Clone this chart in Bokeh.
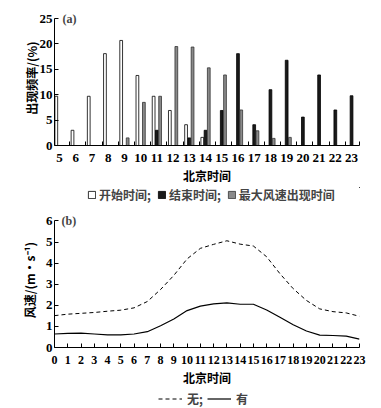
from bokeh.plotting import figure
from bokeh.layouts import column
from bokeh.models import (ColumnDataSource, FixedTicker, Legend, LegendItem, Label,
                          Range1d)
from bokeh.embed import file_html
from bokeh.resources import INLINE

# ---------------- data ----------------
hours_a = list(range(5, 24))
start_freq = [9.7, 3.0, 9.7, 18.1, 20.7, 13.8, 9.7, 6.9, 4.1, 1.6, 0, 0, 0, 0, 0, 0, 0, 0, 0]
end_freq = [0, 0, 0, 0, 0, 0, 3.0, 0, 1.5, 3.0, 6.9, 18.1, 4.1, 11.0, 16.8, 5.6, 13.9, 7.0, 9.8]
maxwind_freq = [0, 0, 0, 0, 1.5, 8.5, 9.7, 19.5, 19.4, 15.3, 13.9, 7.0, 2.9, 1.4, 1.6, 0, 0, 0, 0]

hours_b = list(range(0, 24))
speed_none = [1.51, 1.58, 1.62, 1.66, 1.72, 1.77, 1.88, 2.18, 2.75, 3.42, 4.2, 4.7,
              4.89, 5.06, 4.9, 4.81, 4.3, 3.5, 2.79, 2.23, 1.83, 1.7, 1.64, 1.48]
speed_with = [0.64, 0.67, 0.68, 0.64, 0.6, 0.6, 0.64, 0.75, 1.03, 1.35, 1.75, 1.96,
              2.07, 2.12, 2.05, 2.05, 1.78, 1.43, 1.08, 0.78, 0.59, 0.57, 0.54, 0.4]

labels_a = ["开始时间;", "结束时间;", "最大风速出现时间"]
labels_b = ["无;", "有"]

NUM_FONT = "Liberation Serif"
CJK_FONT = "Noto Sans CJK SC"
W = 372

WHITE_STYLE = dict(fill_color="white", line_color="black", line_width=0.8)
BLACK_STYLE = dict(fill_color="#1a1a1a", line_color="black", line_width=0.8)
GRAY_STYLE = dict(fill_color="#8a8a8a", line_color="#333333", line_width=0.8)
DASH_STYLE = dict(line_color="black", line_width=1, line_dash="4 3")
SOLID_STYLE = dict(line_color="black", line_width=1.2)


def style_axes(p):
    for ax in (p.xaxis[0], p.yaxis[0]):
        ax.axis_line_color = "black"
        ax.axis_line_width = 1
        ax.major_label_text_font = NUM_FONT
        ax.major_label_text_font_style = "bold"
        ax.major_label_text_font_size = "13px"
        ax.major_label_text_color = "black"
        ax.axis_label_text_font = CJK_FONT
        ax.axis_label_text_font_style = "bold"
        ax.axis_label_text_font_size = "12px"
        ax.axis_label_text_color = "black"
        ax.minor_tick_line_color = None
    p.yaxis.major_tick_in = 4
    p.yaxis.major_tick_out = 0
    p.yaxis.major_label_standoff = 2
    p.xgrid.grid_line_color = None
    p.ygrid.grid_line_color = None
    p.outline_line_color = None
    p.background_fill_color = "white"
    p.border_fill_color = "white"


def legend_figure(height):
    # frame aligned with the chart frames above (54..360); data ranges kept far
    # away from the data so only the legend is visible
    q = figure(width=W, height=height, output_backend="svg", toolbar_location=None,
               x_range=Range1d(-100, -99), y_range=Range1d(-100, -99),
               min_border_left=54, min_border_right=W - 360, min_border_top=0,
               min_border_bottom=0, x_axis_location=None, y_axis_location=None)
    q.xgrid.grid_line_color = None
    q.ygrid.grid_line_color = None
    q.outline_line_color = None
    return q


def make_legend(items, loc, gw, standoff, spacing):
    return Legend(items=items, orientation="horizontal", location=loc,
                  label_text_font=CJK_FONT, label_text_font_style="bold",
                  label_text_font_size="12px", glyph_width=gw, glyph_height=9,
                  label_height=12, label_standoff=standoff, spacing=spacing,
                  padding=0, margin=0, border_line_color=None,
                  background_fill_alpha=0)


# ---------------- (a) bars ----------------
src = ColumnDataSource(dict(
    x=hours_a,
    xs=[h - 0.2 for h in hours_a],
    xe=[h for h in hours_a],
    xm=[h + 0.2 for h in hours_a],
    start=start_freq, end=end_freq, maxw=maxwind_freq,
))

p1 = figure(width=W, height=187, output_backend="svg", toolbar_location=None,
            x_range=Range1d(4.69, 23.49), y_range=Range1d(0, 26.6),
            min_border_left=54, min_border_right=W - 360, min_border_top=10,
            min_border_bottom=42)
style_axes(p1)

w = 0.17
p1.vbar(x="xs", top="start", width=w, source=src, **WHITE_STYLE)
p1.vbar(x="xe", top="end", width=w, source=src, **BLACK_STYLE)
p1.vbar(x="xm", top="maxw", width=w, source=src, **GRAY_STYLE)

p1.xaxis.ticker = FixedTicker(ticks=hours_a,
                              minor_ticks=[h + 0.62 for h in hours_a[:-1]] + [23.48])
p1.xaxis.major_tick_in = 0
p1.xaxis.major_tick_out = 0
p1.xaxis[0].minor_tick_line_color = "black"
p1.xaxis.minor_tick_in = 4
p1.xaxis.minor_tick_out = 0
p1.xaxis.major_label_standoff = 8
p1.yaxis.ticker = FixedTicker(ticks=[0, 5, 10, 15, 20, 25])
p1.yaxis.bounds = (0, 25)
p1.xaxis.axis_label = "北京时间"
p1.yaxis.axis_label = "出现频率/(%)"
p1.xaxis.axis_label_standoff = 2
p1.yaxis.axis_label_standoff = -3

p1.add_layout(Label(x=4.69, y=25, x_offset=8, text="(a)", text_font=NUM_FONT,
                    text_font_style="bold", text_font_size="12px",
                    text_baseline="middle"))

# legend for (a): same bar series, drawn outside the legend strip's ranges
lf1 = legend_figure(18)
g_s = lf1.vbar(x="xs", top="start", width=w, source=src, **WHITE_STYLE)
g_e = lf1.vbar(x="xe", top="end", width=w, source=src, **BLACK_STYLE)
g_m = lf1.vbar(x="xm", top="maxw", width=w, source=src, **GRAY_STYLE)
lf1.add_layout(make_legend([LegendItem(label=labels_a[0], renderers=[g_s]),
                            LegendItem(label=labels_a[1], renderers=[g_e]),
                            LegendItem(label=labels_a[2], renderers=[g_m])],
                           (33, 2), 9, 3, 6))

# ---------------- (b) lines ----------------
src_b = ColumnDataSource(dict(x=hours_b, none=speed_none, with_=speed_with))

p2 = figure(width=W, height=184, output_backend="svg", toolbar_location=None,
            x_range=Range1d(0, 23), y_range=Range1d(0, 6.4),
            min_border_left=54, min_border_right=W - 359, min_border_top=7,
            min_border_bottom=42)
style_axes(p2)

p2.line("x", "none", source=src_b, **DASH_STYLE)
p2.line("x", "with_", source=src_b, **SOLID_STYLE)

p2.xaxis.ticker = FixedTicker(ticks=hours_b)
p2.xaxis.major_tick_in = 4
p2.xaxis.major_tick_out = 0
p2.xaxis.major_label_standoff = 8
p2.xaxis.major_label_text_font_size = "12px"
p2.yaxis.ticker = FixedTicker(ticks=[0, 1, 2, 3, 4, 5, 6])
p2.yaxis.bounds = (0, 6)
p2.xaxis.axis_label = "北京时间"
p2.yaxis.axis_label = "风速/(m·s⁻¹)"
p2.xaxis.axis_label_standoff = 2
p2.yaxis.axis_label_standoff = 5

p2.add_layout(Label(x=0, y=6, x_offset=7, text="(b)", text_font=NUM_FONT,
                    text_font_style="bold", text_font_size="12px",
                    text_baseline="middle"))

# legend for (b)
lf2 = legend_figure(18)
g_n = lf2.line("x", "none", source=src_b, **DASH_STYLE)
g_w = lf2.line("x", "with_", source=src_b, **SOLID_STYLE)
lf2.add_layout(make_legend([LegendItem(label=labels_b[0], renderers=[g_n]),
                            LegendItem(label=labels_b[1], renderers=[g_w])],
                           (104, 0), 24, 5, 0))

layout = column(p1, lf1, p2, lf2, spacing=0)

with open("out.html", "w") as f:
    f.write(file_html(layout, INLINE))
